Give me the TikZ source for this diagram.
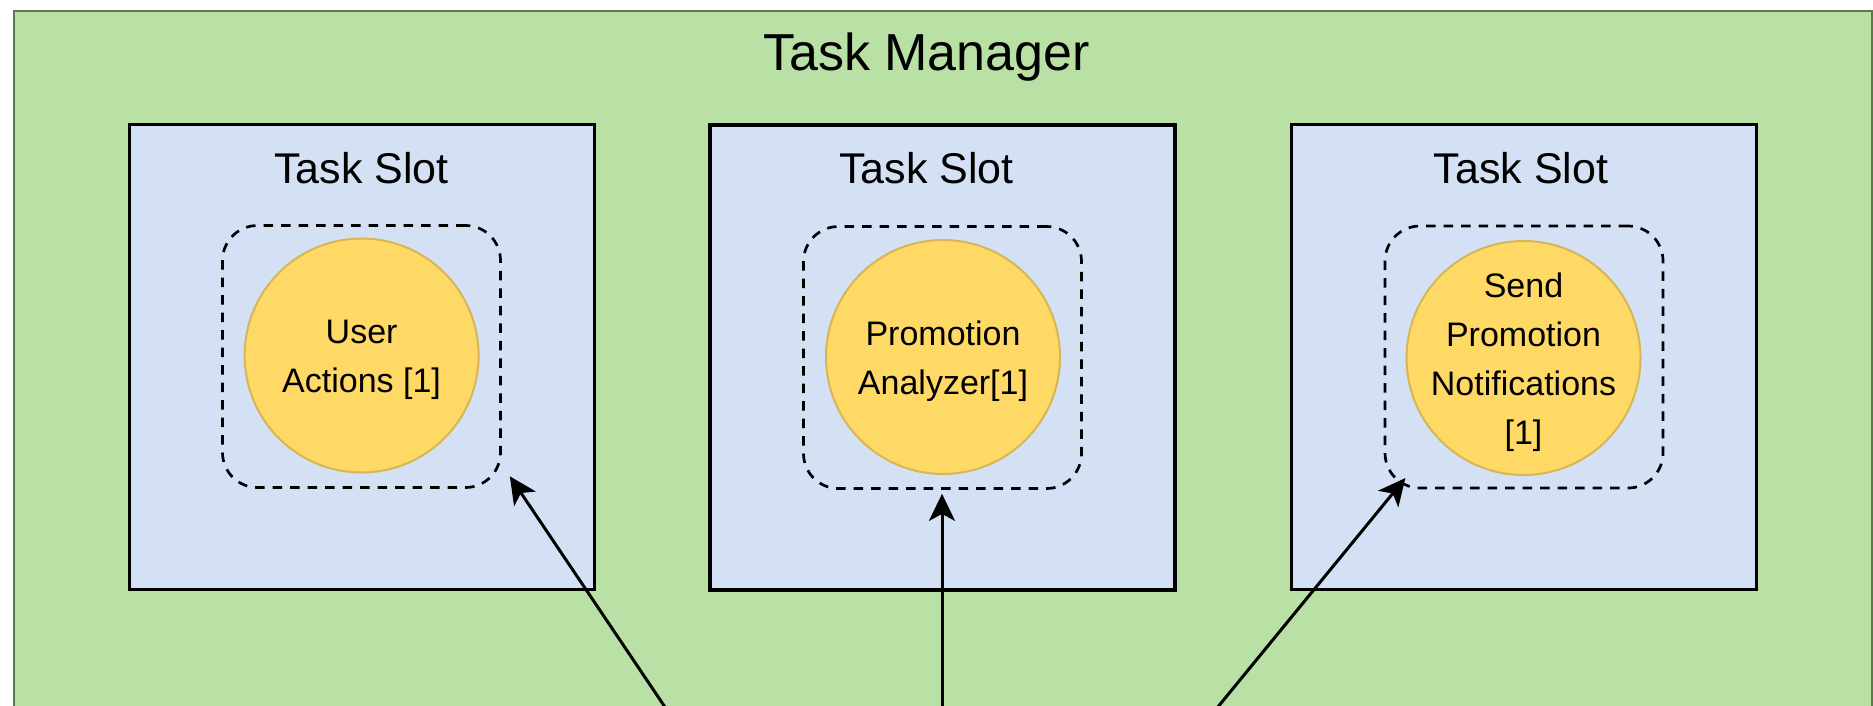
\documentclass[tikz,border=0pt]{standalone}
\usepackage{fontspec}
\setmainfont{Liberation Sans}
\usetikzlibrary{arrows.meta,calc}
\definecolor{tmgreen}{HTML}{B9E0A5}
\definecolor{tmgreenborder}{HTML}{5A7A4C}
\definecolor{slotblue}{HTML}{D4E1F5}
\definecolor{opyellow}{HTML}{FFD966}
\definecolor{opborder}{HTML}{D6B656}
\begin{document}
\begin{tikzpicture}[x=1pt,y=-1pt,
  managerbox/.style={draw=tmgreenborder, fill=tmgreen, line width=2.5pt, inner sep=0pt, anchor=north west, minimum width=1858.5pt, minimum height=740pt},
  slotbox/.style={draw=black, line width=3.2pt, fill=slotblue, minimum width=465pt, minimum height=465pt, inner sep=0pt},
  groupbox/.style={draw=black, line width=2.7pt, dash pattern=on 9.5pt off 8pt, rounded corners=35pt, minimum width=278pt, minimum height=262pt, inner sep=0pt},
  opcircle/.style={circle, fill=opyellow, draw=opborder, line width=2pt, minimum size=234pt, inner sep=0pt},
  optext/.style={align=center, font=\fontsize{34}{49}\selectfont, inner sep=0pt, yshift=-4pt},
  slottitle/.style={font=\fontsize{43}{50}\selectfont, anchor=base, inner sep=0pt},
  maintitle/.style={font=\fontsize{52}{60}\selectfont, anchor=base, inner sep=0pt},
  link/.style={line width=3pt, -{Stealth[length=27pt,width=26pt,inset=7pt]}}
]
\useasboundingbox (0,0) rectangle (1873,705);
\clip (0,0) rectangle (1873,705);

\node[managerbox] (tm) at (12.5,9.5) {};
\node[maintitle] (tmtitle) at (926.5,70) {Task Manager};

% slots
\node[slotbox] (s1) at (362,357) {};
\node[slotbox] (s2) at (942.5,357.5) {};
\node[slotbox] (s3) at (1523.8,357) {};

\node[slottitle] (st1) at (361.5,183) {Task Slot};
\node[slottitle] (st2) at (926.5,183.5) {Task Slot};
\node[slottitle] (st3) at (1521,183) {Task Slot};

% dashed groups
\node[groupbox] (d1) at (361.5,356.5) {};
\node[groupbox] (d2) at (942.5,357.5) {};
\node[groupbox] (d3) at (1524,357) {};

% operators
\node[opcircle] (c1) at (361.6,355.5) {};
\node[opcircle] (c2) at (943,357) {};
\node[opcircle] (c3) at (1523.5,358) {};

\node[optext] (t1) at (c1.center) {User\\Actions [1]};
\node[optext] (t2) at (c2.center) {Promotion\\Analyzer[1]};
\node[optext] (t3) at (c3.center) {Send\\Promotion\\Notifications\\{[1]}};

% connectors coming from below the visible area
\coordinate (src1) at (690.5,745);
\coordinate (src2) at (942,745);
\coordinate (src3) at (1186.7,745);

\draw[link] (src1) -- ($(d1.south east)+(8,-12.5)$);
\draw[link] (src2) -- ($(d2.south)+(-0.5,4)$);
\draw[link] (src3) -- ($(d3.south west)+(21.7,-11.3)$);
\end{tikzpicture}
\end{document}
